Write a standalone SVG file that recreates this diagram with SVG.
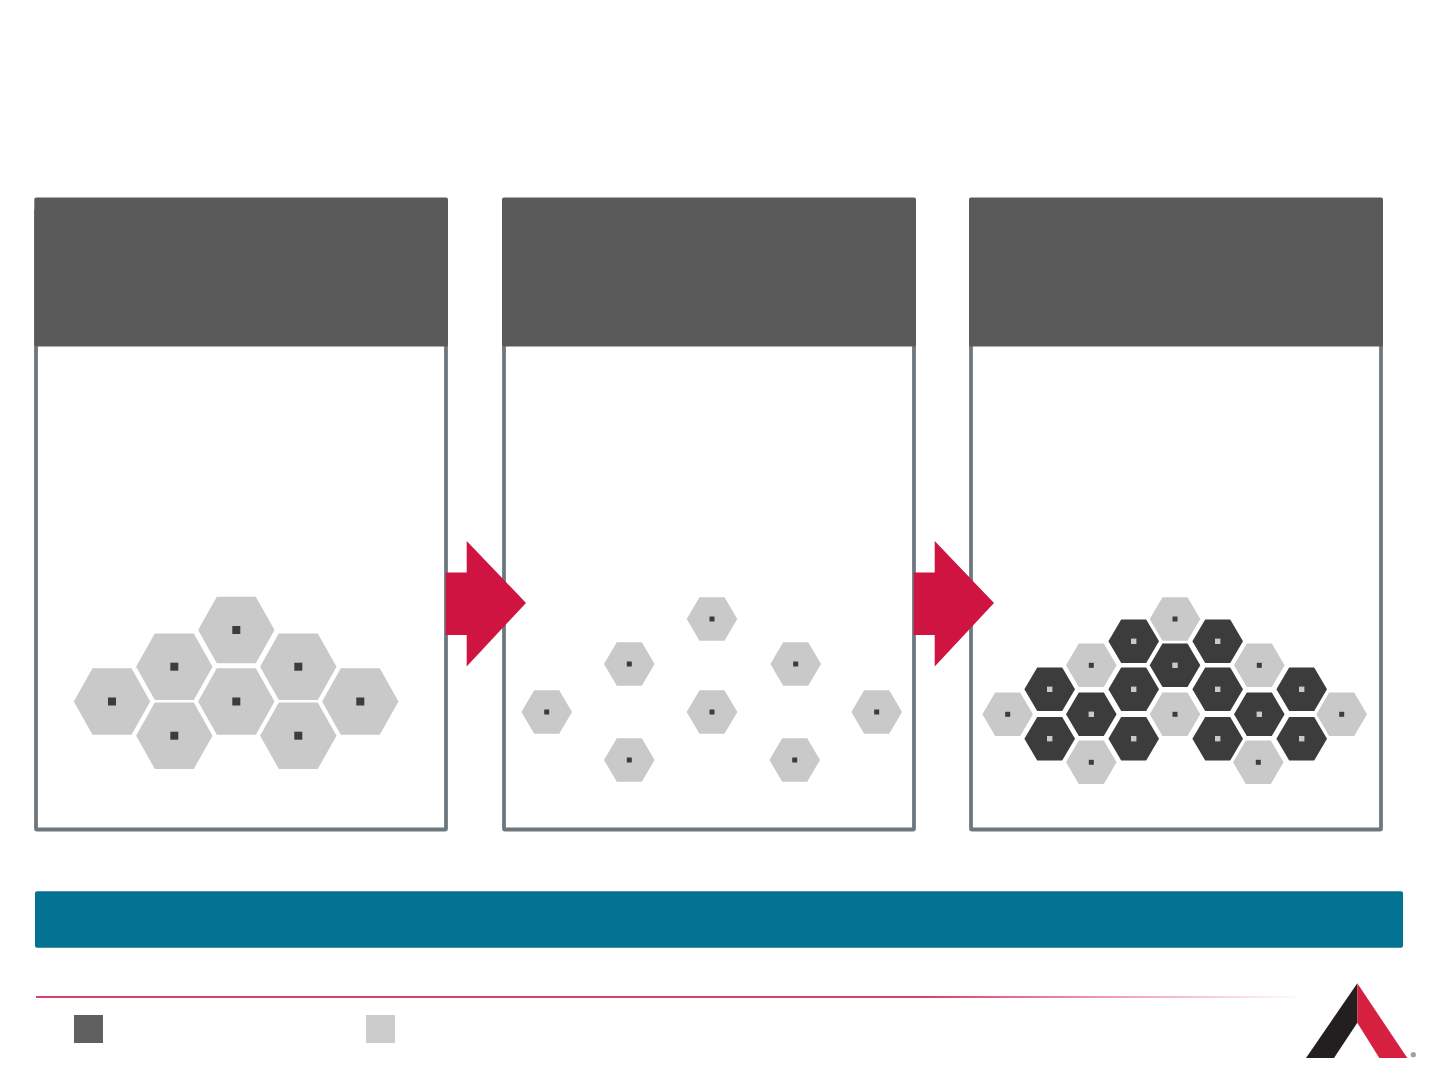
<svg xmlns="http://www.w3.org/2000/svg" xmlns:xlink="http://www.w3.org/1999/xlink" width="1440" height="1080" viewBox="0 0 1440 1080">
<style>
.frame{fill:#fff;stroke:#6d787e;stroke-width:3.8}
.head{fill:#5a5a5a}
.arrow{fill:#d01442}
.lg{fill:#c9c9c9}
.dk{fill:#3c3c3c}
.sq-d{fill:#3c3c3c}
.sq-l{fill:#c9c9c9}
</style>
<defs>
<linearGradient id="rule" x1="0" x2="1" y1="0" y2="0">
<stop offset="0" stop-color="#d01442"/><stop offset="0.7" stop-color="#d01442"/><stop offset="1" stop-color="#d01442" stop-opacity="0"/>
</linearGradient>
<polygon id="big" points="-38.2,0 -19.5,-33.2 19.5,-33.2 38.2,0 19.5,33.2 -19.5,33.2"/>
<polygon id="small" points="-25.3,0 -12.5,-21.8 12.5,-21.8 25.3,0 12.5,21.8 -12.5,21.8"/>
<g id="b"><use xlink:href="#big" class="lg"/><rect x="-4" y="-4" width="8" height="8" class="sq-d"/></g>
<g id="l"><use xlink:href="#small" class="lg"/><rect x="-2.5" y="-2.5" width="5" height="5" class="sq-d"/></g>
<g id="d"><use xlink:href="#small" class="dk"/><rect x="-2.7" y="-2.7" width="5.4" height="5.4" class="sq-l"/></g>
<polygon id="arr" points="0,0 21,0 21,-31.5 80.3,30.5 21,94 21,62.7 0,62.7"/>
</defs>
<rect width="1440" height="1080" fill="#fff"/>
<g id="panel-1">
<rect class="frame" x="36" y="210" width="410" height="619.5" rx="1"/>
<rect class="head" x="34.3" y="197.4" width="413.7" height="149.2" rx="2"/>
<g id="panel-1-cells">
<use xlink:href="#b" x="112" y="701.5"/><use xlink:href="#b" x="174.3" y="666.7"/><use xlink:href="#b" x="174.3" y="735.7"/><use xlink:href="#b" x="236.3" y="630"/><use xlink:href="#b" x="236.3" y="701.5"/><use xlink:href="#b" x="298.3" y="666.7"/><use xlink:href="#b" x="298.3" y="735.7"/><use xlink:href="#b" x="360.3" y="701.5"/>
</g>
</g>
<g id="panel-2">
<rect class="frame" x="504" y="210" width="410" height="619.5" rx="1"/>
<rect class="head" x="502" y="197.4" width="414" height="149.2" rx="2"/>
<g id="panel-2-cells">
<use xlink:href="#l" x="712" y="619"/><use xlink:href="#l" x="629.3" y="664"/><use xlink:href="#l" x="795.7" y="664"/><use xlink:href="#l" x="546.7" y="712"/><use xlink:href="#l" x="712" y="712"/><use xlink:href="#l" x="876.7" y="712"/><use xlink:href="#l" x="629.3" y="760"/><use xlink:href="#l" x="794.7" y="760"/>
</g>
</g>
<g id="panel-3">
<rect class="frame" x="971" y="210" width="410" height="619.5" rx="1"/>
<rect class="head" x="969" y="197.4" width="414" height="149.2" rx="2"/>
<g id="panel-3-cells">
<use xlink:href="#l" x="1175" y="619"/><use xlink:href="#l" x="1091.3" y="665.3"/><use xlink:href="#l" x="1259.3" y="665.3"/><use xlink:href="#l" x="1007.7" y="714.3"/><use xlink:href="#l" x="1175" y="714.3"/><use xlink:href="#l" x="1341.7" y="714.3"/><use xlink:href="#l" x="1091.3" y="762.3"/><use xlink:href="#l" x="1258.3" y="762.3"/>
<use xlink:href="#d" x="1133.7" y="641.3"/><use xlink:href="#d" x="1217.7" y="641.3"/><use xlink:href="#d" x="1175" y="665.3"/><use xlink:href="#d" x="1049.7" y="689.3"/><use xlink:href="#d" x="1133.7" y="689.3"/><use xlink:href="#d" x="1217.7" y="689.3"/><use xlink:href="#d" x="1301.7" y="689.3"/><use xlink:href="#d" x="1091.3" y="714.3"/><use xlink:href="#d" x="1259.3" y="714.3"/><use xlink:href="#d" x="1049.7" y="738.7"/><use xlink:href="#d" x="1133.7" y="738.7"/><use xlink:href="#d" x="1217.7" y="738.7"/><use xlink:href="#d" x="1301.7" y="738.7"/>
</g>
</g>
<g id="connectors">
<use xlink:href="#arr" class="arrow" x="445.7" y="572.4"/>
<use xlink:href="#arr" class="arrow" x="913.7" y="572.4"/>
</g>
<g id="banner"><rect x="35" y="891.2" width="1368" height="56.6" rx="2" fill="#047292"/></g>
<g id="footer">
<rect x="36" y="996.2" width="1270" height="1.6" fill="url(#rule)"/>
<rect x="74" y="1015" width="29" height="28" fill="#5f605f"/>
<rect x="366" y="1015" width="29" height="28" fill="#cccccc"/>
</g>
<g id="logo">
<polygon points="1357.3,983.3 1357.3,1022.7 1334,1058 1306,1058" fill="#231f20"/>
<polygon points="1357.3,983.3 1407.3,1058 1379.3,1058 1357.3,1022.7" fill="#d5213f"/>
<circle cx="1413.3" cy="1054.7" r="2.6" fill="#9aa3a8"/>
</g>
</svg>
